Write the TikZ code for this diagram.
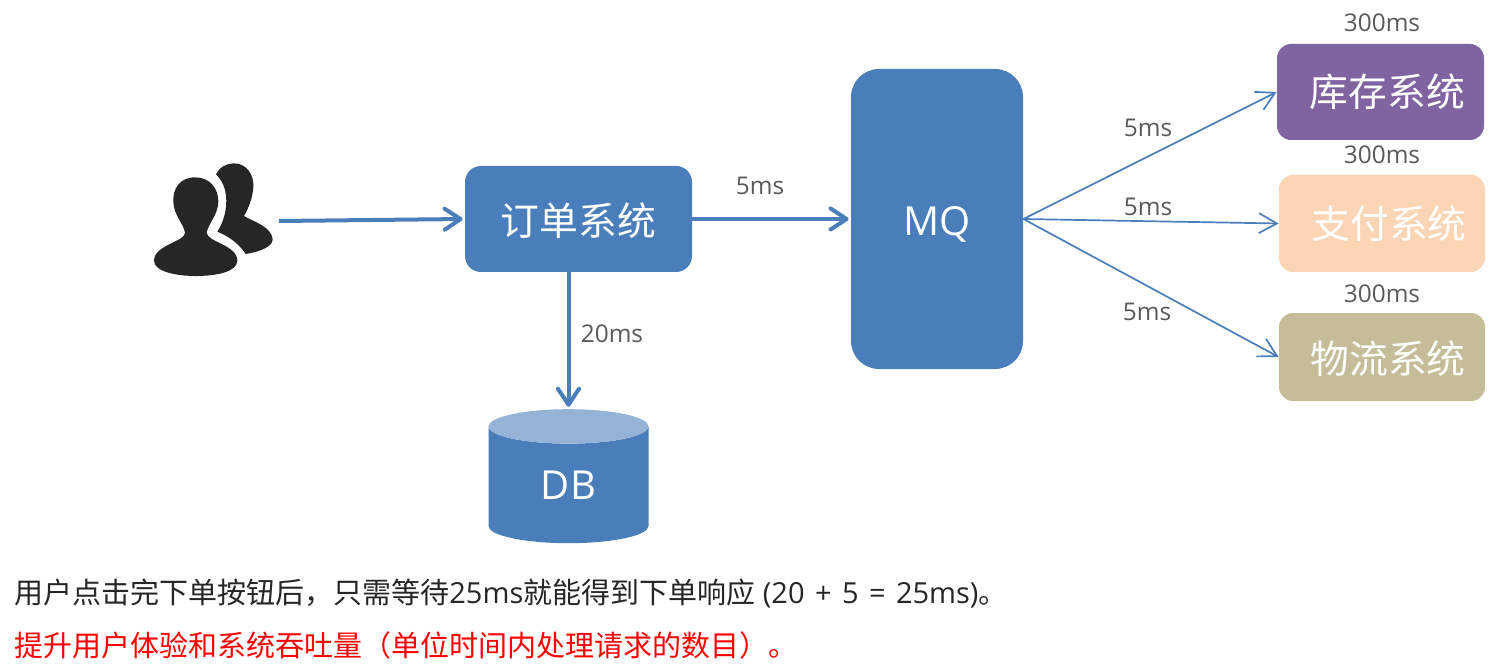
\documentclass[tikz,border=0pt]{standalone}
\usepackage{fontspec}
\setmainfont{Open Sans}
\newfontfamily\cjk{Noto Sans CJK SC}
\usetikzlibrary{arrows.meta, shapes.geometric}
\definecolor{mqblue}{HTML}{4A7EBB}
\definecolor{dbtop}{HTML}{95B3D7}
\definecolor{stockpurple}{HTML}{8064A2}
\definecolor{paypeach}{HTML}{FCD5B5}
\definecolor{logtan}{HTML}{C4BD97}
\definecolor{labelgrey}{HTML}{595959}
\definecolor{iconblack}{HTML}{262626}
\begin{document}
\begin{tikzpicture}[
        x = 0.5pt,
        y = -0.5pt,
        box/.style = {rounded corners = 7pt, inner sep = 0pt, text = white, font = \cjk\fontsize{19.4}{23}\selectfont},
        lowered/.style = {text height = 16.6pt, text depth = 0pt},
        timing/.style = {text = labelgrey, inner sep = 0pt, font = \fontsize{12.2}{14}\selectfont},
        note/.style = {anchor = west, inner sep = 0pt, font = \fontsize{14.5}{17}\selectfont},
        bigarrow/.style = {-{Straight Barb[round, length = 8pt, width = 10.5pt]}, mqblue, line width = 2pt, shorten >= 1pt},
        thinarrow/.style = {-{Straight Barb[length = 9pt, width = 10pt]}, mqblue, line width = 0.85pt}
      ]
      \useasboundingbox (0, 0) rectangle (1509, 668);
      % the users
      \begin{scope}[shift = {(130, 140)}, x = 0.1667pt, y = -0.1667pt]
        \fill[iconblack] (195,112) .. controls (150,112) and (128,145) .. (130,185)
          .. controls (131,225) and (160,250) .. (165,278)
          .. controls (165,305) and (72,315) .. (72,362)
          .. controls (72,395) and (140,408) .. (197,408)
          .. controls (260,408) and (322,395) .. (322,362)
          .. controls (322,315) and (230,305) .. (230,278)
          .. controls (235,250) and (264,225) .. (265,185)
          .. controls (265,145) and (240,112) .. (195,112) -- cycle;
        \fill[iconblack] (258,103) .. controls (270,80) and (290,70) .. (312,70)
          .. controls (350,70) and (372,105) .. (370,140)
          .. controls (368,175) and (355,205) .. (342,228)
          .. controls (370,245) and (425,260) .. (428,298)
          .. controls (428,320) and (390,335) .. (347,342)
          .. controls (330,315) and (300,290) .. (262,275)
          .. controls (285,240) and (295,190) .. (285,150)
          .. controls (280,130) and (270,115) .. (258,103) -- cycle;
      \end{scope}
      \coordinate (users) at (279, 221);
      % nodes
      \node[box, lowered, fill = mqblue, rounded corners = 8pt, minimum width = 113.5pt, minimum height = 53pt] (order) at (578.5, 219) {订单系统};
      \node[box, lowered, fill = mqblue, rounded corners = 14pt, minimum width = 86pt, minimum height = 150pt, font = \fontsize{20}{24}\selectfont] (mq) at (937, 219) {MQ};
      \node[box, fill = stockpurple, minimum width = 103.5pt, minimum height = 48pt] (stock) at (1380.5, 92) {\hspace*{7pt}库存系统};
      \node[box, fill = paypeach, minimum width = 103pt, minimum height = 48.5pt] (pay) at (1382, 223.5) {\hspace*{7pt}支付系统};
      \node[box, lowered, fill = logtan, minimum width = 103pt, minimum height = 44pt] (logistics) at (1382, 357) {\hspace*{6pt}物流系统};
      \node[cylinder, shape border rotate = 90, aspect = 0.625, cylinder uses custom fill, cylinder body fill = mqblue, cylinder end fill = dbtop,
            inner sep = 0pt, minimum width = 80pt, minimum height = 67pt, text = white, font = \fontsize{20}{24}\selectfont] (db) at (568.5, 485) {DB};
      % the calls
      \draw[bigarrow] (users) -- (order.west);
      \draw[bigarrow] (order.east) -- (mq.west);
      \draw[bigarrow] (order.south -| db.north) -- (db.north);
      \draw[thinarrow] (mq.east) -- (stock.west);
      \draw[thinarrow] (mq.east) -- (pay.west);
      \draw[thinarrow] (mq.east) -- (logistics.west);
      % the timings
      \node[timing] (t-mq) at (760, 186) {5ms};
      \node[timing] (t-db) at (612, 334) {20ms};
      \node[timing] (t-stock) at (1148, 128) {5ms};
      \node[timing] (t-pay) at (1148, 207) {5ms};
      \node[timing] (t-log) at (1147, 312) {5ms};
      \node[timing] (s-stock) at (1382, 23) {300ms};
      \node[timing] (s-pay) at (1382, 155) {300ms};
      \node[timing] (s-log) at (1382, 294) {300ms};
      % the notes
      \node[note, text = iconblack] (note1) at (14, 593) {{\cjk 用户点击完下单按钮后，只需等待}25ms{\cjk 就能得到下单响应} {\spaceskip=5.2pt (20 + 5 = 25ms)}{\cjk 。}};
      \node[note, text = red] (note2) at (14, 645) {\cjk 提升用户体验和系统吞吐量（单位时间内处理请求的数目）。};
    \end{tikzpicture}
\end{document}
